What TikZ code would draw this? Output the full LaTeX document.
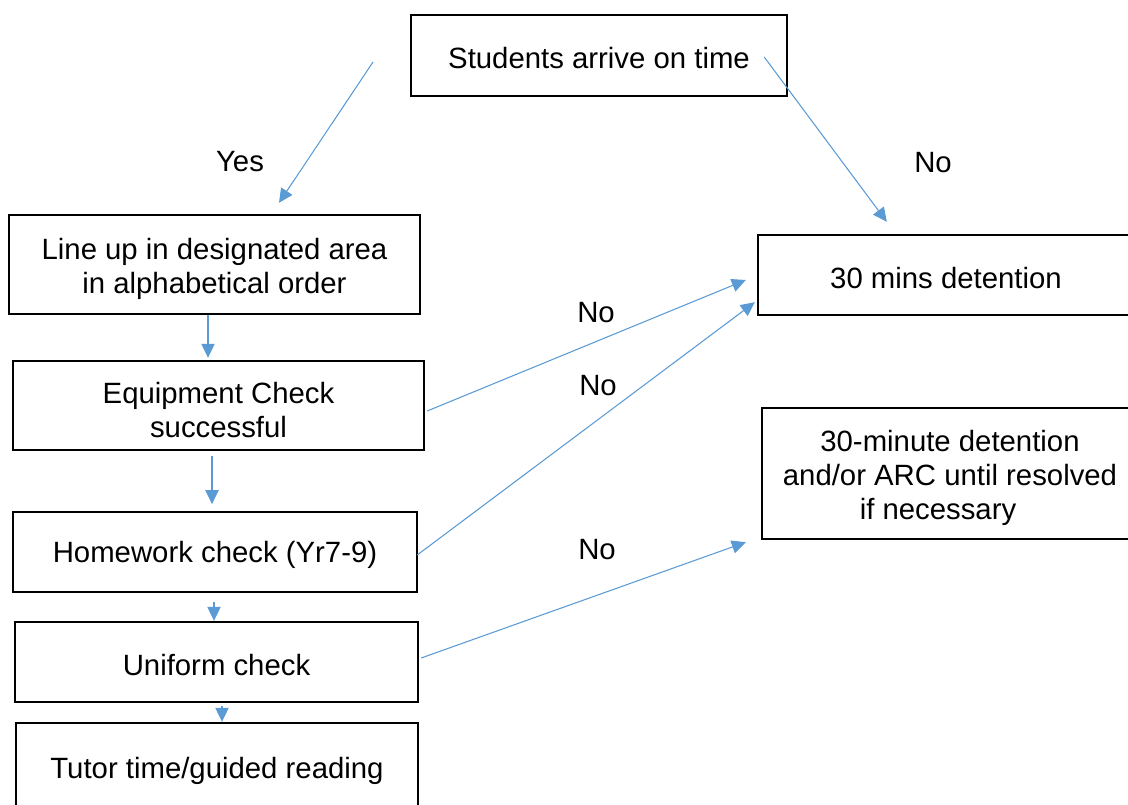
\documentclass[tikz,border=0pt]{standalone}
\usepackage{fontspec}
\setmainfont{Liberation Sans}
\usetikzlibrary{arrows.meta,calc}
\definecolor{arr}{HTML}{5B9BD5}
\newcommand{\toppad}{\rule{0pt}{22pt}}
\begin{document}
\begin{tikzpicture}[x=0.75pt,y=-0.75pt,
  box/.style={draw=black,line width=1.8pt,inner sep=0pt,align=center,
    font=\fontsize{22}{25.5}\selectfont},
  lbl/.style={inner sep=0pt,font=\fontsize{22}{25.5}\selectfont},
  conn/.style={draw=arr,line width=0.8pt,-{Triangle[length=10.5pt,width=10pt]}}]
\useasboundingbox (0,0) rectangle (1128,805);

\node[box,minimum width=282pt,minimum height=60.75pt] (students) at (599,55.5) {\rule{0pt}{20pt}Students arrive on time};
\node[box,minimum width=308.25pt,minimum height=74.25pt] (lineup) at (214.5,264.5) {\toppad Line up in designated area\\in alphabetical order};
\node[box,minimum width=308.25pt,minimum height=66.75pt] (equip) at (218.5,405.5) {\toppad Equipment Check\\successful};
\node[box,minimum width=303pt,minimum height=60pt] (hw) at (215,552) {\rule{0pt}{20pt}Homework check (Yr7-9)};
\node[box,minimum width=302.25pt,minimum height=60pt] (uni) at (216.5,662) {\rule{0pt}{20pt}Uniform check};
\node[box,minimum width=301.5pt,minimum height=67.5pt] (tutor) at (217,768) {\rule{0pt}{20pt}Tutor time/guided reading};
\node[box,minimum width=282pt,minimum height=60pt] (det) at (946,275) {\rule{0pt}{20pt}30 mins detention};
\node[box,minimum width=282pt,minimum height=98.25pt] (arc) at (950,473.5) {\toppad 30-minute detention\\and/or ARC until resolved\\if necessary\hspace*{18pt}};

\node[lbl] (lyes) at (240,162) {Yes};
\node[lbl] (lno1) at (933,163) {No};
\node[lbl] (lno2) at (596,313) {No};
\node[lbl] (lno3) at (598,386) {No};
\node[lbl] (lno4) at (597,550) {No};

\coordinate (yesstart) at (373,62);

\draw[conn] (yesstart) -- ($(lineup.north)+(64.5,-11)$);
\draw[conn] ($(students.east)+(-24,1.5)$) -- ($(det.north west)+(130,-12)$);

\draw[conn,shorten >=1.5pt] (lineup.south -| 208,0) -- (equip.north -| 208,0);
\draw[conn,shorten <=3.75pt,shorten >=5pt] (equip.south -| 212,0) -- (hw.north -| 212,0);
\draw[conn,shorten <=6.5pt] (hw.south -| 214,0) -- (uni.north -| 214,0);
\draw[conn,shorten <=2.25pt] (uni.south -| 222,0) -- (tutor.north -| 222,0);

\draw[conn] ($(equip.east)+(2,5.5)$) -- ($(det.west)+(-11,5)$);
\draw[conn] ($(hw.east)+(-1,3)$) -- ($(det.south west)+(-2,-14)$);
\draw[conn] ($(uni.east)+(2,-4)$) -- ($(arc.south west)+(-15,2)$);
\end{tikzpicture}
\end{document}
